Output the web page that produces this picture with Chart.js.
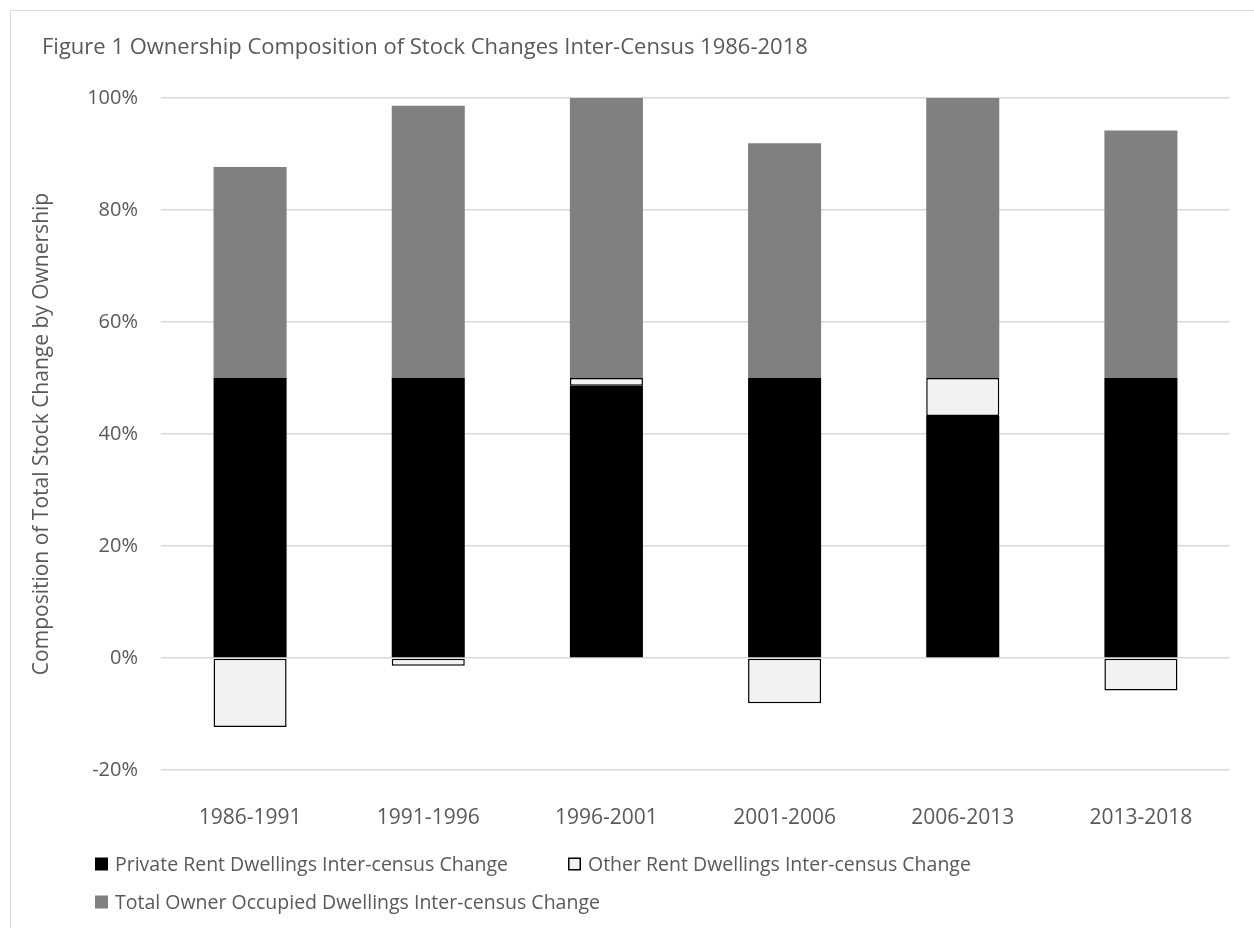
<!DOCTYPE html>
<html><head><meta charset="utf-8">
<script src="https://cdn.jsdelivr.net/npm/chart.js@4.4.1/dist/chart.umd.min.js"></script>
<style>
html,body{margin:0;padding:0;background:#fff;overflow:hidden;width:1254px;height:928px;}
#frame{position:absolute;left:10px;top:10px;width:1300px;height:1000px;border:1px solid #d9d9d9;box-sizing:border-box;}
#wrap{position:absolute;left:0;top:0;width:1254px;height:928px;}
</style></head><body>
<div id="frame"></div>
<div id="wrap"><canvas id="c" width="1254" height="928"></canvas></div>
<script>
const categories = ["1986-1991", "1991-1996", "1996-2001", "2001-2006", "2006-2013", "2013-2018"];
const privateRent = [50, 50, 48.6, 50, 43.2, 50];
const otherRent = [-12.3, -1.4, 1.4, -8.1, 6.8, -5.8];
const ownerOccupied = [37.7, 48.6, 50, 41.9, 50, 44.2];
const yTicks = [-20, 0, 20, 40, 60, 80, 100];
const seriesNames = [
  "Private Rent Dwellings Inter-census Change",
  "Other Rent Dwellings Inter-census Change",
  "Total Owner Occupied Dwellings Inter-census Change"
];
const chartTitle = "Figure 1 Ownership Composition of Stock Changes Inter-Census 1986-2018";
const yTitle = "Composition of Total Stock Change by Ownership";

const FONT = '"Open Sans", "Liberation Sans", sans-serif';
const TXT = '#595959';

const legendPos = [{x: 95, y: 864}, {x: 568, y: 864}, {x: 95, y: 902}];

const decor = {
  id: 'decor',
  afterDraw(chart) {
    const ctx = chart.ctx;
    ctx.save();
    ctx.fillStyle = TXT;
    ctx.textBaseline = 'middle';
    ctx.textAlign = 'left';
    ctx.font = '22px ' + FONT;
    ctx.fillText(chartTitle, 42, 48);
    ctx.font = '19.5px ' + FONT;
    chart.data.datasets.forEach((ds, i) => {
      const p = legendPos[i];
      const s = 13;
      ctx.fillStyle = ds.backgroundColor;
      ctx.fillRect(p.x, p.y - s / 2, s, s);
      if (ds.borderWidth) {
        ctx.strokeStyle = ds.borderColor;
        ctx.lineWidth = 1.5;
        ctx.strokeRect(p.x + 0.75, p.y - s / 2 + 0.75, s - 1.5, s - 1.5);
      }
      ctx.fillStyle = TXT;
      ctx.fillText(ds.label, p.x + 20, p.y + 1);
    });
    ctx.restore();
  }
};

new Chart(document.getElementById('c'), {
  type: 'bar',
  data: {
    labels: categories,
    datasets: [
      {label: seriesNames[0], data: privateRent, backgroundColor: '#000000', borderWidth: 0},
      {label: seriesNames[1], data: otherRent, backgroundColor: '#f2f2f2', borderColor: '#000000', borderWidth: 1.5, borderSkipped: false},
      {label: seriesNames[2], data: ownerOccupied, backgroundColor: '#808080', borderWidth: 0}
    ]
  },
  options: {
    responsive: false,
    animation: false,
    devicePixelRatio: 1,
    layout: {padding: {top: 98, right: 24, bottom: 98, left: 0}},
    datasets: {bar: {barPercentage: 0.41, categoryPercentage: 1}},
    plugins: {legend: {display: false}, title: {display: false}, tooltip: {enabled: false}},
    scales: {
      x: {
        stacked: true,
        grid: {display: false},
        border: {display: false},
        afterFit: s => { s.height = 60; },
        ticks: {color: TXT, padding: 27, font: {family: FONT, size: 21}}
      },
      y: {
        stacked: true,
        min: -20, max: 100,
        afterBuildTicks: s => { s.ticks = yTicks.map(v => ({value: v})); },
        afterFit: s => { s.width = 161; },
        border: {display: false},
        grid: {color: '#d9d9d9', lineWidth: 1.5, drawTicks: false},
        ticks: {color: TXT, padding: 23, font: {family: FONT, size: 20}, callback: v => v + '%'},
        title: {display: true, text: yTitle, color: TXT, font: {family: FONT, size: 21}, padding: {top: 29, bottom: 0}}
      }
    }
  },
  plugins: [decor]
});
</script>
</body></html>
